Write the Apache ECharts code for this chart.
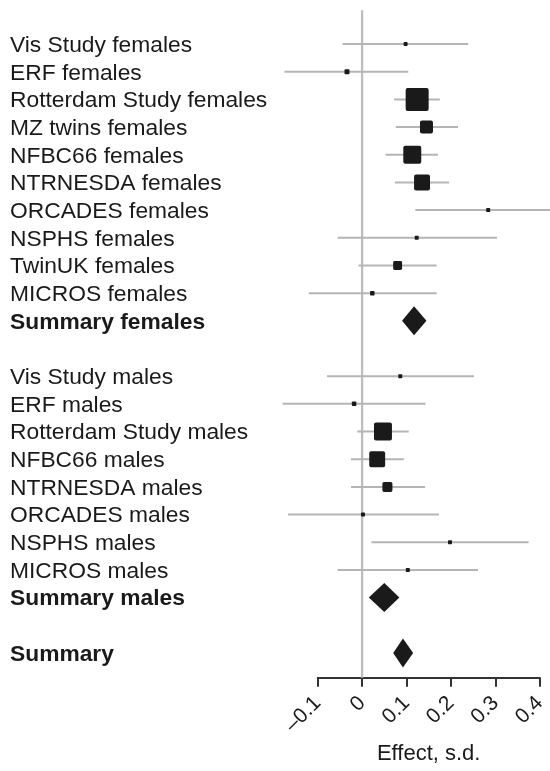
<!DOCTYPE html>
<html>
<head>
<meta charset="utf-8">
<script src="https://cdn.jsdelivr.net/npm/echarts@6/dist/echarts.min.js"></script>
<style>html,body{margin:0;padding:0;background:#fff}#c{width:550px;height:771px}</style>
</head>
<body>
<div id="c"></div>
<script>
// Rows (top to bottom); blank strings are spacer rows
var categories = [
  'Vis Study females','ERF females','Rotterdam Study females','MZ twins females','NFBC66 females',
  'NTRNESDA females','ORCADES females','NSPHS females','TwinUK females','MICROS females','Summary females',
  ' ',
  'Vis Study males','ERF males','Rotterdam Study males','NFBC66 males','NTRNESDA males',
  'ORCADES males','NSPHS males','MICROS males','Summary males',
  '  ',
  'Summary'
];
// Effect estimates and 95% CI (s.d.)
var estimate = [0.098,-0.034,0.124,0.145,0.113,0.135,0.284,0.123,0.080,0.023,0.117,
  null,0.086,-0.018,0.047,0.034,0.057,0.002,0.198,0.103,0.050,null,0.092];
var lower = [-0.044,-0.175,0.072,0.076,0.053,0.074,0.120,-0.055,-0.008,-0.120,0.090,
  null,-0.079,-0.179,-0.011,-0.025,-0.025,-0.167,0.021,-0.055,0.015,null,0.070];
var upper = [0.239,0.104,0.175,0.216,0.171,0.196,0.450,0.304,0.168,0.168,0.145,
  null,0.252,0.143,0.105,0.094,0.142,0.173,0.375,0.261,0.084,null,0.115];
// Relative study weights (box area); 0 = summary (diamond)
var weights = [3,4.7,100,32,61,48,3,3,15,3.8,0,
  null,3,3.8,61,48,19,3,3,3,0,null,0];
var xTicks = [-0.1,0,0.1,0.2,0.3,0.4];

var FONT = "'Liberation Sans', Arial, Helvetica, sans-serif";
var data = [];
for (var i = 0; i < categories.length; i++) {
  if (estimate[i] === null) continue;
  data.push([i, lower[i], estimate[i], upper[i], weights[i]]);
}

var chart = echarts.init(document.getElementById('c'), null, {renderer: 'canvas'});
chart.setOption({
  animation: false,
  backgroundColor: '#fff',
  grid: {left: 317.7, right: 10.3, top: 30.2, bottom: 104.2, containLabel: false},
  xAxis: {
    type: 'value', min: xTicks[0], max: xTicks[xTicks.length - 1], interval: 0.1,
    offset: 11,
    splitLine: {show: false},
    axisLine: {show: true, lineStyle: {color: '#333', width: 2}},
    axisTick: {show: true, length: 9, lineStyle: {color: '#333', width: 2}},
    axisLabel: {
      rotate: 45, margin: 22, padding: [15, 0, 0, 0], fontSize: 21, color: '#1a1a1a', fontFamily: FONT,
      formatter: function (v) { return String(Math.round(v * 10) / 10).replace('-', '\u2013'); }
    },
    name: 'Effect, s.d.', nameLocation: 'middle', nameGap: 65,
    nameTextStyle: {fontSize: 22, color: '#1a1a1a', fontFamily: FONT}
  },
  yAxis: {
    type: 'category', inverse: true, data: categories,
    axisLine: {show: false}, axisTick: {show: false}, splitLine: {show: false},
    axisLabel: {
      interval: 0, align: 'left', margin: 307.7, fontSize: 22.8, color: '#1a1a1a', fontFamily: FONT,
      padding: [3, 0, 0, 0],
      formatter: function (v) { return v.indexOf('Summary') === 0 ? '{b|' + v + '}' : v; },
      rich: {b: {fontWeight: 'bold', fontSize: 22.8, color: '#1a1a1a', fontFamily: FONT}}
    }
  },
  series: [
    {
      type: 'custom', clip: false, z: 1,
      data: [[0]],
      encode: {x: 0},
      renderItem: function (params, api) {
        var cs = params.coordSys;
        var x = api.coord([api.value(0), 0])[0];
        return {type: 'line', shape: {x1: x, y1: cs.y - 20, x2: x, y2: cs.y + cs.height + 11},
          style: {stroke: '#bdbdbd', lineWidth: 2.3}};
      }
    },
    {
      type: 'custom', clip: false, z: 2,
      data: data,
      encode: {y: 0, x: [1, 2, 3]},
      renderItem: function (params, api) {
        var row = api.value(0);
        var pLo = api.coord([api.value(1), row]);
        var pPt = api.coord([api.value(2), row]);
        var pHi = api.coord([api.value(3), row]);
        var w = api.value(4);
        if (!w) {
          var h = 14.5;
          return {type: 'polygon', shape: {points: [[pLo[0], pPt[1]], [pPt[0], pPt[1] - h], [pHi[0], pPt[1]], [pPt[0], pPt[1] + h]]},
            style: {fill: '#1a1a1a'}};
        }
        var s = 23 * Math.sqrt(w / 100);
        return {type: 'group', children: [
          {type: 'line', shape: {x1: pLo[0], y1: pLo[1], x2: pHi[0], y2: pHi[1]}, style: {stroke: '#b5b5b5', lineWidth: 2}},
          {type: 'rect', shape: {x: pPt[0] - s / 2, y: pPt[1] - s / 2, width: s, height: s, r: Math.min(2, s / 6)}, style: {fill: '#1a1a1a'}}
        ]};
      }
    }
  ]
});
</script>
</body>
</html>
